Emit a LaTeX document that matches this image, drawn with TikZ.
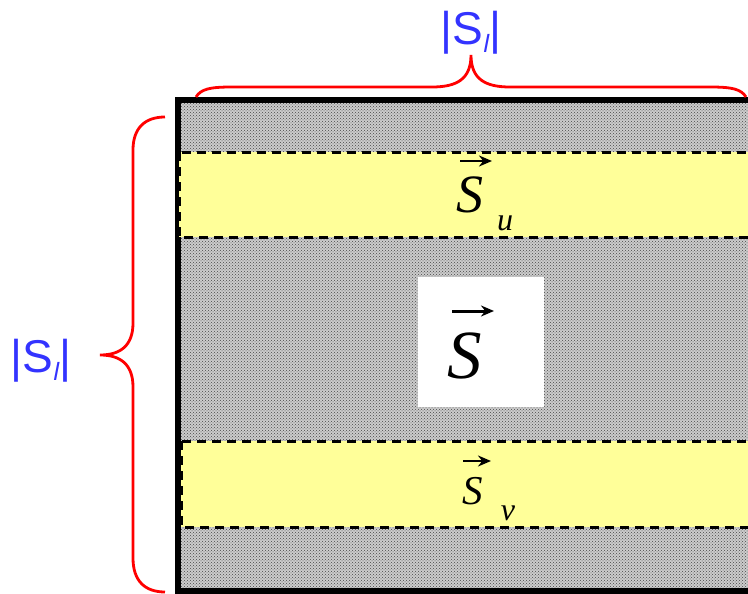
\documentclass[tikz,border=0pt]{standalone}
\usepackage{fontspec}
\setmainfont{Liberation Serif}
\newfontfamily\lblfont{Liberation Sans}
\usetikzlibrary{patterns,arrows.meta}
\definecolor{bandyellow}{RGB}{255,255,153}
\definecolor{lblblue}{RGB}{51,51,255}
\begin{document}
\begin{tikzpicture}[x=1pt,y=-1pt,
  band/.style={fill=bandyellow, draw=black, line width=3pt, dash pattern=on 9pt off 6pt},
  brace/.style={draw=red, line width=2.8pt},
  lbl/.style={text=lblblue, font=\lblfont\fontsize{46}{46}\selectfont, inner sep=0pt, anchor=base},
  vecarrow/.style={line width=3pt, -{Stealth[length=13pt,width=11pt]}},
  bigS/.style={font=\itshape\fontsize{69}{69}\selectfont, inner sep=0pt, anchor=base},
  midS/.style={font=\itshape\fontsize{54}{54}\selectfont, inner sep=0pt, anchor=base},
  smallS/.style={font=\itshape\fontsize{41}{41}\selectfont, inner sep=0pt, anchor=base},
  sub/.style={font=\itshape\fontsize{32}{32}\selectfont, inner sep=0pt, anchor=base},
  ]
\useasboundingbox (0,0) rectangle (748,594);
\clip (0,0) rectangle (748,594);
% gray dotted field
\fill[gray!40] (178,100) rectangle (770,591);
\fill[pattern=crosshatch dots, pattern color=gray!55!black] (178,100) rectangle (770,591);
% outer border
\draw[line width=6pt] (178,100) rectangle (770,591);
% yellow bands
\path[band] (179,152) rectangle (775,237);
\path[band] (181,441) rectangle (775,527);
% white box
\fill[white] (418,277) rectangle (544,407);
% texts
\node[bigS] (S) at (465,378) {S};
\coordinate (a1s) at (452,311); \coordinate (a1e) at (494,311);
\draw[vecarrow] (a1s) -- (a1e);
\node[midS] (Su) at (470,212) {S};
\node[sub] (u) at (505,230) {u};
\coordinate (a2s) at (460,161); \coordinate (a2e) at (492,161);
\draw[vecarrow, line width=2.5pt] (a2s) -- (a2e);
\node[smallS] (Sv) at (473,504) {S};
\node[sub] (v) at (508,520) {v};
\coordinate (a3s) at (463,461); \coordinate (a3e) at (491,461);
\draw[vecarrow, line width=2.5pt] (a3s) -- (a3e);
% labels
\node[lbl] (top) at (471,45) {|S\raisebox{-8pt}{\fontsize{25}{25}\selectfont\itshape l}|};
\node[lbl] (left) at (41,372) {|S\raisebox{-8pt}{\fontsize{25}{25}\selectfont\itshape l}|};
% braces
\draw[brace] (196,97) .. controls (201,89) and (210,87) .. (232,87) -- (432,87)
  .. controls (457,87) and (471,79) .. (471,55)
  .. controls (471,79) and (485,87) .. (510,87) -- (710,87)
  .. controls (732,87) and (741,89) .. (746,97);
\draw[brace] (165,117) .. controls (145,117) and (133,128) .. (133,150) -- (133,323)
  .. controls (133,346) and (120,355) .. (100,355)
  .. controls (120,355) and (133,364) .. (133,387) -- (133,558)
  .. controls (133,581) and (145,592) .. (165,592);
\end{tikzpicture}
\end{document}
